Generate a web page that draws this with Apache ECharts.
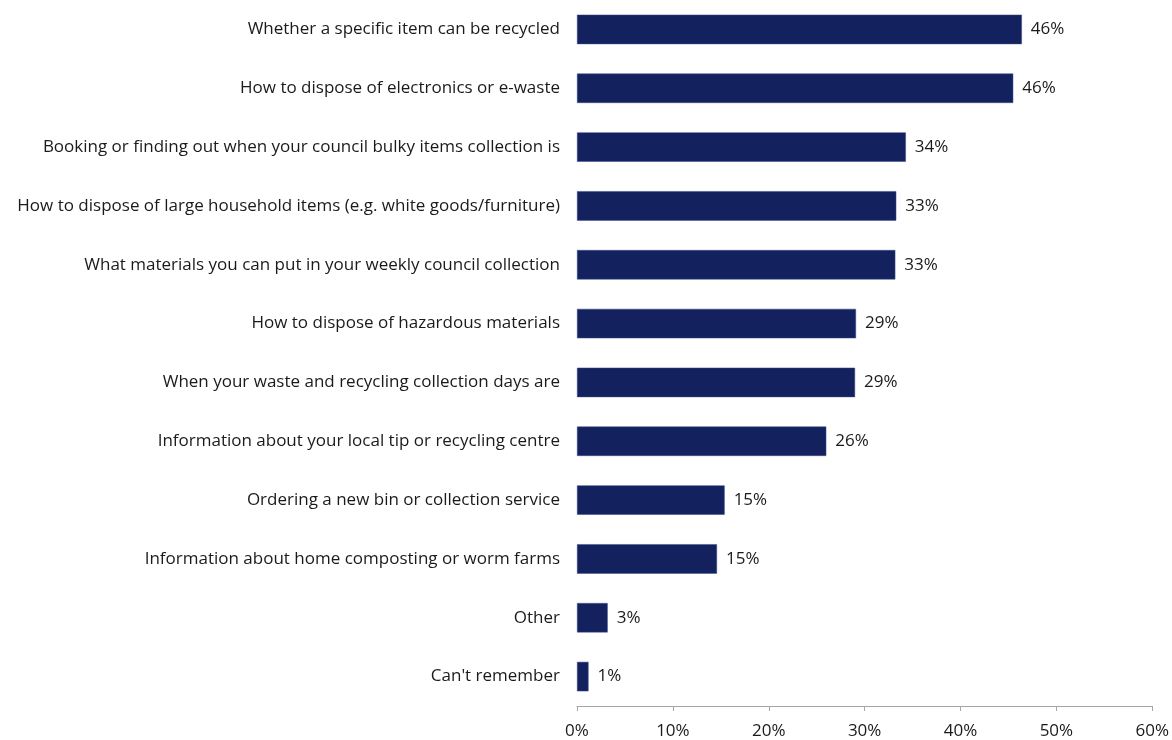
<!DOCTYPE html>
<html>
<head>
<meta charset="utf-8">
<style>
  html, body { margin: 0; padding: 0; background: #ffffff; }
  #chart { width: 1172px; height: 740px; }
</style>
<script src="https://cdn.jsdelivr.net/npm/echarts@6/dist/echarts.min.js"></script>
</head>
<body>
<div id="chart"></div>
<script>
// Topics people looked up, listed top to bottom
const categories = [
  "Whether a specific item can be recycled",
  "How to dispose of electronics or e-waste",
  "Booking or finding out when your council bulky items collection is",
  "How to dispose of large household items (e.g. white goods/furniture)",
  "What materials you can put in your weekly council collection",
  "How to dispose of hazardous materials",
  "When your waste and recycling collection days are",
  "Information about your local tip or recycling centre",
  "Ordering a new bin or collection service",
  "Information about home composting or worm farms",
  "Other",
  "Can't remember"
];

// Share of respondents (%), same order as categories
const shares = [46.4, 45.5, 34.3, 33.3, 33.2, 29.1, 29.0, 26.0, 15.4, 14.6, 3.2, 1.2];

// Value axis ticks (%)
const tickValues = [0, 10, 20, 30, 40, 50, 60];

const FONT = "'Open Sans', sans-serif";
const FONT_SIZE = 17;

const chart = echarts.init(document.getElementById('chart'), null, { renderer: 'canvas' });

chart.setOption({
  animation: false,
  backgroundColor: '#ffffff',
  grid: { left: 577, right: 19, top: 0, bottom: 33, containLabel: false },
  xAxis: {
    type: 'value',
    min: tickValues[0],
    max: tickValues[tickValues.length - 1],
    interval: tickValues[1] - tickValues[0],
    axisLine: { show: true, lineStyle: { color: '#a6a6a6', width: 1 } },
    axisTick: { show: true, length: 5, lineStyle: { color: '#a6a6a6' } },
    splitLine: { show: false },
    axisLabel: {
      formatter: v => v + '%',
      color: '#1a1a1a',
      fontFamily: FONT,
      fontSize: FONT_SIZE,
      margin: 17
    }
  },
  yAxis: {
    type: 'category',
    inverse: true,
    data: categories,
    axisLine: { show: false },
    axisTick: { show: false },
    axisLabel: {
      color: '#1a1a1a',
      fontFamily: FONT,
      fontSize: FONT_SIZE,
      margin: 17
    }
  },
  series: [{
    type: 'bar',
    data: shares,
    barCategoryGap: '50%',
    itemStyle: { color: '#13215f', borderColor: '#3a4a88', borderWidth: 0.5 },
    label: {
      show: true,
      position: 'right',
      distance: 9,
      formatter: p => Math.round(p.value) + '%',
      color: '#1a1a1a',
      fontFamily: FONT,
      fontSize: FONT_SIZE
    }
  }]
});
</script>
</body>
</html>
